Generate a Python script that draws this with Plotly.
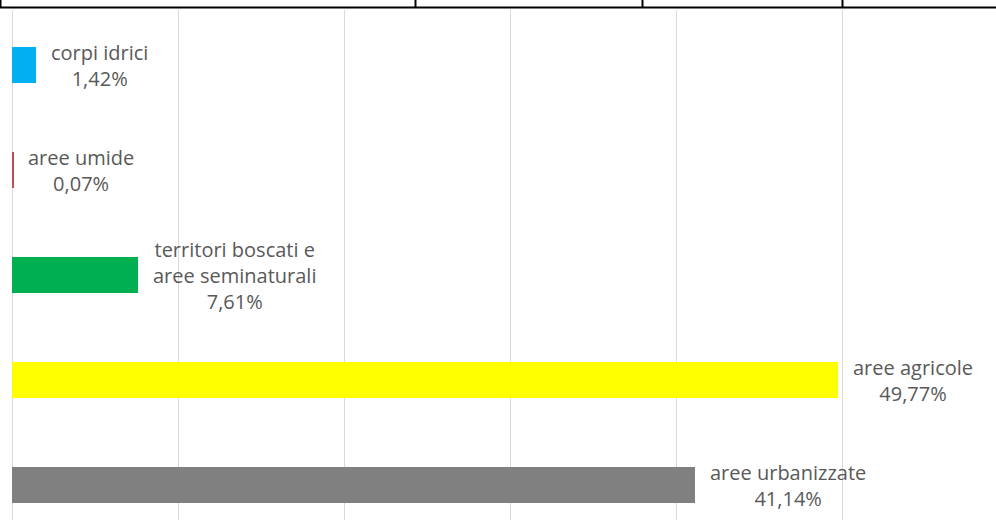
import plotly.graph_objects as go

# Land-cover shares (percent), top to bottom
categories = ["corpi idrici", "aree umide", "territori boscati e<br>aree seminaturali",
              "aree agricole", "aree urbanizzate"]
values = [1.42, 0.07, 7.61, 49.77, 41.14]
value_labels = ["1,42%", "0,07%", "7,61%", "49,77%", "41,14%"]
colors = ["#00B0F0", "#C0504D", "#00B050", "#FFFF00", "#808080"]

W, H = 996, 520
ML, MT = 12, 10
plot_w, plot_h = W - ML, H - MT

positions = list(range(len(categories)))

fig = go.Figure()
fig.add_trace(go.Bar(
    x=values, y=positions, orientation="h",
    marker=dict(color=colors, line=dict(width=0)),
    width=0.35, hoverinfo="skip",
))

# Two/three-line labels to the right of each bar
for pos, val, cat, lab in zip(positions, values, categories, value_labels):
    fig.add_annotation(
        x=val, y=pos, xref="x", yref="y",
        text=f"{cat}<br>{lab}", showarrow=False,
        xanchor="left", yanchor="middle", align="center", xshift=13,
        font=dict(family="Open Sans, sans-serif", size=20, color="#595959"),
    )

# Header rule with column dividers above the chart
def px_x(p):
    return (p - ML) / plot_w

def px_y(p):
    return (H - p) / plot_h

shapes = [dict(type="line", xref="paper", yref="paper",
               x0=px_x(0), x1=px_x(W), y0=px_y(7.5), y1=px_y(7.5),
               line=dict(color="black", width=2))]
for xp in [0.5, 415.5, 642.5, 842.5]:
    shapes.append(dict(type="line", xref="paper", yref="paper",
                       x0=px_x(xp), x1=px_x(xp), y0=px_y(0), y1=px_y(7.5),
                       line=dict(color="black", width=2)))
fig.update_layout(shapes=shapes)

fig.update_layout(
    width=W, height=H,
    margin=dict(l=ML, r=0, t=MT, b=0),
    paper_bgcolor="white", plot_bgcolor="white",
    showlegend=False, bargap=0,
    xaxis=dict(range=[0, plot_w / 16.6], dtick=10, showticklabels=False,
               showgrid=True, gridcolor="#D9D9D9", gridwidth=1,
               zeroline=True, zerolinecolor="#D9D9D9", zerolinewidth=1,
               showline=False, fixedrange=True),
    yaxis=dict(range=[4 + 35 / 105, -0.5 - 2.5 / 105], showticklabels=False,
               showgrid=False, zeroline=False, showline=False, fixedrange=True),
)

fig.write_html("out.html")
